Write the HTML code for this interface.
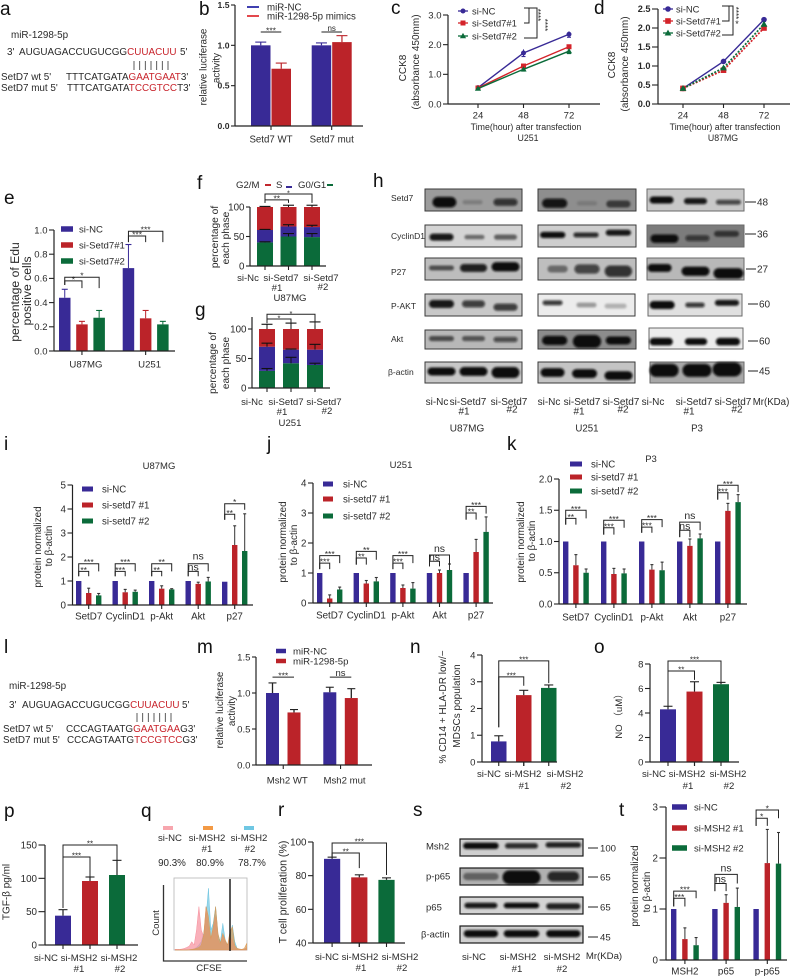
<!DOCTYPE html>
<html lang="en">
<head>
<meta charset="utf-8">
<title>Multi-panel figure</title>
<style>
html,body{margin:0;padding:0;background:#fff;width:792px;height:976px;overflow:hidden}
svg{display:block;filter:blur(.3px)}
text{font-family:"Liberation Sans","Noto Sans CJK SC",sans-serif;fill:#2a2a2a;font-size:9.6px}
.m{text-anchor:middle}
.letter{font-size:19px;fill:#111}
.seq{font-size:9.9px}
.red{fill:#c8242c}
</style>
</head>
<body>
<svg id="figure" xmlns="http://www.w3.org/2000/svg" width="792" height="976" viewBox="0 0 792 976">
<defs><filter id="bandBlur" x="-30%" y="-80%" width="160%" height="260%"><feGaussianBlur stdDeviation="1.1"/></filter></defs>
<rect width="792" height="976" fill="#fff"/>

<g>
<text class="letter" x="0" y="15">a</text>
<text class="letter" x="199" y="15">b</text>
<text class="letter" x="391" y="14">c</text>
<text class="letter" x="594" y="14">d</text>
<text class="letter" x="4" y="204">e</text>
<text class="letter" x="197" y="189">f</text>
<text class="letter" x="195" y="316">g</text>
<text class="letter" x="373" y="187">h</text>
<text class="letter" x="4" y="450">i</text>
<text class="letter" x="267" y="450">j</text>
<text class="letter" x="507" y="450">k</text>
<text class="letter" x="4" y="653">l</text>
<text class="letter" x="197" y="653">m</text>
<text class="letter" x="410" y="653">n</text>
<text class="letter" x="594" y="653">o</text>
<text class="letter" x="4" y="817">p</text>
<text class="letter" x="141" y="817">q</text>
<text class="letter" x="278" y="816">r</text>
<text class="letter" x="413" y="816">s</text>
<text class="letter" x="619" y="816">t</text>
</g>

<g>
<text class="seq" x="11" y="38">miR-1298-5p</text>
<text class="seq" x="7" y="55">3'</text>
<text class="seq" x="19" y="55">AUGUAGACCUGUCGG<tspan class="red">CUUACUU</tspan></text>
<text class="seq" x="180" y="55">5'</text>
<path d="M134 61V70M139.7 61V70M145.3 61V70M151 61V70M156.7 61V70M162.3 61V70M168 61V70" stroke="#333" stroke-width=".8" fill="none"/>
<text class="seq" x="1" y="80">SetD7 wt 5'</text>
<text class="seq" x="66" y="80">TTTCATGATA<tspan class="red">GAATGAAT</tspan>3'</text>
<text class="seq" x="1" y="91">SetD7 mut 5'</text>
<text class="seq" x="67" y="91">TTTCATGATA<tspan class="red">TCCGTCC</tspan>T3'</text>
</g>

<g>
<text class="seq" x="9" y="689">miR-1298-5p</text>
<text class="seq" x="9" y="708">3'</text>
<text class="seq" x="22" y="708">AUGUAGACCUGUCGG<tspan class="red">CUUACUU</tspan></text>
<text class="seq" x="182" y="708">5'</text>
<path d="M137 713V722M142.7 713V722M148.3 713V722M154 713V722M159.7 713V722M165.3 713V722M171 713V722" stroke="#333" stroke-width=".8" fill="none"/>
<text class="seq" x="3" y="732">SetD7 wt 5'</text>
<text class="seq" x="66" y="732">CCCAGTAATG<tspan class="red">GAATGAA</tspan>G3'</text>
<text class="seq" x="3" y="743">SetD7 mut 5'</text>
<text class="seq" x="67" y="743">CCCAGTAATG<tspan class="red">TCCGTCC</tspan>G3'</text>
</g>

<g>
<text class="m" transform="translate(206.5,67) rotate(-90)" style="font-size:9.9px">relative luciferase</text>
<text class="m" transform="translate(219.5,68) rotate(-90)" style="font-size:9.9px">activity</text>
<text class="m" transform="translate(406,68) rotate(-90)" style="font-size:10px">CCK8</text>
<text class="m" transform="translate(419,62) rotate(-90)" style="font-size:10px">(absorbance 450mm)</text>
<text class="m" x="526" y="130" style="font-size:8.8px">Time(hour) after transfection</text>
<text class="m" x="528" y="141" style="font-size:8.8px">U251</text>
<text class="m" transform="translate(615,65) rotate(-90)" style="font-size:10px">CCK8</text>
<text class="m" transform="translate(628,64) rotate(-90)" style="font-size:10px">(absorbance 450mm)</text>
<text class="m" x="725" y="130" style="font-size:8.8px">Time(hour) after transfection</text>
<text class="m" x="723" y="141" style="font-size:8.8px">U87MG</text>
<text class="m" transform="translate(19,292) rotate(-90)" style="font-size:12.2px">percentage of Edu</text>
<text class="m" transform="translate(31,291) rotate(-90)" style="font-size:12.2px">positive cells</text>
<text class="m" transform="translate(218,237) rotate(-90)" style="font-size:10.2px">percentage of</text>
<text class="m" transform="translate(229,238) rotate(-90)" style="font-size:10.2px">each phase</text>
<text x="236" y="188">G2/M</text>
<text x="276" y="188">S</text>
<text x="298" y="188">G0/G1</text>
<rect x="265" y="184" width="6" height="2" fill="#c1272d"/>
<rect x="286" y="186" width="6" height="2" fill="#382a96"/>
<rect x="327" y="184" width="6" height="2" fill="#0b6b3a"/>
<text class="m" x="248" y="281">si-Nc</text>
<text class="m" x="281" y="281">si-Setd7</text>
<text class="m" x="277" y="291">#1</text>
<text class="m" x="321" y="281">si-Setd7</text>
<text class="m" x="323" y="290">#2</text>
<text class="m" x="290" y="301">U87MG</text>
<text class="m" transform="translate(216,363) rotate(-90)" style="font-size:10.1px">percentage of</text>
<text class="m" transform="translate(229,363) rotate(-90)" style="font-size:10.1px">each phase</text>
<text class="m" x="252" y="405">si-Nc</text>
<text class="m" x="286" y="405">si-Setd7</text>
<text class="m" x="282" y="415">#1</text>
<text class="m" x="324" y="405">si-Setd7</text>
<text class="m" x="327" y="414">#2</text>
<text class="m" x="290" y="426">U251</text>

<text class="m" x="159" y="469" style="font-size:9.5px">U87MG</text>
<text class="m" transform="translate(41,547) rotate(-90)" style="font-size:9.9px">protein normalized</text>
<text class="m" transform="translate(52,546) rotate(-90)" style="font-size:9.9px">to β-actin</text>
<text class="m" x="401" y="468" style="font-size:9.5px">U251</text>
<text class="m" transform="translate(286,542) rotate(-90)" style="font-size:9.9px">protein normalized</text>
<text class="m" transform="translate(297,545) rotate(-90)" style="font-size:9.9px">to β-actin</text>
<text class="m" x="651" y="462" style="font-size:9.5px">P3</text>
<text class="m" transform="translate(524,542) rotate(-90)" style="font-size:9.9px">protein normalized</text>
<text class="m" transform="translate(535,541) rotate(-90)" style="font-size:9.9px">to β-actin</text>
<text class="m" transform="translate(223,710) rotate(-90)" style="font-size:9.9px">relative luciferase</text>
<text class="m" transform="translate(235,711) rotate(-90)" style="font-size:9.9px">activity</text>
<text class="m" transform="translate(446,707) rotate(-90)" style="font-size:10.1px">% CD14 + HLA-DR low/−</text>
<text class="m" transform="translate(460,706) rotate(-90)" style="font-size:10px">MDSCs population</text>
<text class="m" x="489" y="777">si-NC</text>
<text class="m" x="523" y="777">si-MSH2</text>
<text class="m" x="524" y="789">#1</text>
<text class="m" x="565" y="777">si-MSH2</text>
<text class="m" x="566" y="789">#2</text>
<text class="m" transform="translate(622,714) rotate(-90)">NO （uM）</text>
<text class="m" x="654" y="777">si-NC</text>
<text class="m" x="687" y="777">si-MSH2</text>
<text class="m" x="688" y="789">#1</text>
<text class="m" x="728" y="777">si-MSH2</text>
<text class="m" x="729" y="789">#2</text>
<text class="m" transform="translate(9.5,892) rotate(-90)" style="font-size:10px">TGF-β pg/ml</text>
<text class="m" x="46" y="961">si-NC</text>
<text class="m" x="79" y="961">si-MSH2</text>
<text class="m" x="79" y="972">#1</text>
<text class="m" x="119" y="961">si-MSH2</text>
<text class="m" x="120" y="972">#2</text>
<rect x="163" y="826" width="10" height="4" fill="#f7a6ae"/>
<rect x="203" y="826" width="10" height="4" fill="#f39a45"/>
<rect x="244" y="826" width="10" height="4" fill="#6fc7e3"/>
<text class="m" x="170" y="841">si-NC</text>
<text class="m" x="207" y="841">si-MSH2</text>
<text class="m" x="207" y="852">#1</text>
<text class="m" x="249" y="841">si-MSH2</text>
<text class="m" x="250" y="852">#2</text>
<text class="m" x="172" y="866" style="font-size:9.8px">90.3%</text>
<text class="m" x="210" y="866" style="font-size:9.8px">80.9%</text>
<text class="m" x="252" y="866" style="font-size:9.8px">78.7%</text>
<text class="m" transform="translate(159,923) rotate(-90)">Count</text>
<text class="m" x="209" y="971">CFSE</text>
<text class="m" transform="translate(286.5,892) rotate(-90)" style="font-size:10.6px">T cell proliferation (%)</text>
<text class="m" x="327" y="960">si-NC</text>
<text class="m" x="360" y="960">si-MSH2</text>
<text class="m" x="361" y="971">#1</text>
<text class="m" x="400" y="960">si-MSH2</text>
<text class="m" x="402" y="971">#2</text>
<text class="m" transform="translate(638,886) rotate(-90)" style="font-size:9.9px">protein normalized</text>
<text class="m" transform="translate(650,892) rotate(-90)" style="font-size:9.9px">to β-actin</text>
</g>

<g>
<path d="M524 8H529V23H524" fill="none" stroke="#222" stroke-width="1"/>
<path d="M529 8H537V38H524" fill="none" stroke="#222" stroke-width="1"/>
<text class="m" transform="translate(535,15) rotate(90)" style="font-size:8px">****</text>
<text class="m" transform="translate(542,25) rotate(90)" style="font-size:8px">****</text>
<path d="M722 6H729V21H722" fill="none" stroke="#222" stroke-width="1"/>
<path d="M729 6H733V35H722" fill="none" stroke="#222" stroke-width="1"/>
<text class="m" transform="translate(733,13) rotate(90)" style="font-size:8px">****</text>
<text class="m" x="737" y="27" style="font-size:9px">*</text>
</g>

<g>
<text x="391" y="201" style="font-size:8.5px">Setd7</text>
<text x="391" y="239" style="font-size:8.5px">CyclinD1</text>
<text x="391" y="275" style="font-size:8.5px">P27</text>
<text x="391" y="309" style="font-size:8.5px">P-AKT</text>
<text x="391" y="342" style="font-size:8.5px">Akt</text>
<text x="388" y="375" style="font-size:8.5px">β-actin</text>
<path d="M745 202H756M745 234H756M746 269H756M748 304H758M748 341H758M748 371H758" stroke="#222" stroke-width="1" fill="none"/>
<text x="757" y="205.5" style="font-size:10px">48</text>
<text x="757" y="237.5" style="font-size:10px">36</text>
<text x="757" y="272.5" style="font-size:10px">27</text>
<text x="759" y="307.5" style="font-size:10px">60</text>
<text x="759" y="344.5" style="font-size:10px">60</text>
<text x="759" y="374.5" style="font-size:10px">45</text>
<text class="m" x="437" y="405" style="font-size:10px">si-Nc</text>
<text class="m" x="468" y="405" style="font-size:10px">si-Setd7</text>
<text class="m" x="464" y="414.5" style="font-size:10px">#1</text>
<text class="m" x="509" y="405" style="font-size:10px">si-Setd7</text>
<text class="m" x="512" y="412.5" style="font-size:10px">#2</text>
<text class="m" x="549" y="405" style="font-size:10px">si-Nc</text>
<text class="m" x="582" y="405" style="font-size:10px">si-Setd7</text>
<text class="m" x="579" y="414.5" style="font-size:10px">#1</text>
<text class="m" x="621" y="405" style="font-size:10px">si-Setd7</text>
<text class="m" x="623" y="412.5" style="font-size:10px">#2</text>
<text class="m" x="653" y="405" style="font-size:10px">si-Nc</text>
<text class="m" x="694" y="405" style="font-size:10px">si-Setd7</text>
<text class="m" x="689" y="414.5" style="font-size:10px">#1</text>
<text class="m" x="733" y="405" style="font-size:10px">si-Setd7</text>
<text class="m" x="737" y="412.5" style="font-size:10px">#2</text>
<text class="m" x="771" y="405" style="font-size:9.7px">Mr(KDa)</text>
<text class="m" x="467" y="431.5" style="font-size:10px">U87MG</text>
<text class="m" x="587" y="431.5" style="font-size:9.7px">U251</text>
<text class="m" x="697" y="431.5" style="font-size:9.7px">P3</text>
</g>

<g>
<text x="426" y="849.5" style="font-size:9.5px">Msh2</text>
<text x="426" y="879.5" style="font-size:9.5px">p-p65</text>
<text x="426" y="910.5" style="font-size:9.5px">p65</text>
<text x="421" y="937.5" style="font-size:9.5px">β-actin</text>
<path d="M588 848H598M588 877H598M588 907H598M588 937H598" stroke="#222" stroke-width="1" fill="none"/>
<text x="600" y="851.5">100</text>
<text x="600" y="880.5">65</text>
<text x="600" y="910.5">65</text>
<text x="600" y="940.5">45</text>
<text class="m" x="474" y="960" style="font-size:9.6px">si-NC</text>
<text class="m" x="518" y="960" style="font-size:9.6px">si-MSH2</text>
<text class="m" x="517" y="972" style="font-size:9.6px">#1</text>
<text class="m" x="562" y="960" style="font-size:9.6px">si-MSH2</text>
<text class="m" x="562" y="972" style="font-size:9.6px">#2</text>
<text class="m" x="604" y="959" style="font-size:9.6px">Mr(KDa)</text>
</g>
</svg>

<script>
/* ---------- panel b ---------- */
const bCategories=['Setd7 WT','Setd7 mut'];
const bSeriesNames=['miR-NC','miR-1298-5p mimics'];
const bTicks=[0,0.5,1,1.5];
const bNC=[1.0,1.0];
const bMimics=[0.71,1.04];
const bNCErr=[0.04,0.03];
const bMimicsErr=[0.07,0.08];
/* ---------- panel c ---------- */
const cHours=['24','48','72'];
const cSeriesNames=['si-NC','si-Setd7#1','si-Setd7#2'];
const cTicks=[0,1,2,3];
const cNC=[0.55,1.72,2.35];
const cSi1=[0.54,1.28,1.93];
const cSi2=[0.52,1.17,1.78];
const cNCErr=[0.03,0.12,0.1];
const cSi1Err=[0.02,0.05,0.06];
const cSi2Err=[0.02,0.06,0.08];
/* ---------- panel d ---------- */
const dHours=['24','48','72'];
const dSeriesNames=['si-NC','si-Setd7#1','si-Setd7#2'];
const dTicks=[0,0.5,1,1.5,2,2.5];
const dNC=[0.41,1.12,2.22];
const dSi1=[0.41,0.89,2.0];
const dSi2=[0.41,0.95,2.1];
/* ---------- panel e ---------- */
const eCategories=['U87MG','U251'];
const eSeriesNames=['si-NC','si-Setd7#1','si-Setd7#2'];
const eTicks=[0,0.2,0.4,0.6,0.8,1];
const eNC=[0.44,0.685];
const eSi1=[0.22,0.27];
const eSi2=[0.275,0.22];
const eNCErr=[0.07,0.195];
const eSi1Err=[0.025,0.065];
const eSi2Err=[0.06,0.025];
/* ---------- panels f, g ---------- */
const fgTicks=[0,50,100];
const fG0=[40,50,49];
const fS=[21,17,17];
const fG2=[39,33,34];
const fG0Err=[1,5,6];
const fSErr=[1,3,3];
const fG2Err=[1,3,3];
const gG0=[29,42,39];
const gS=[41,23,26];
const gG2=[30,35,35];
const gG0Err=[4,10,3];
const gSErr=[6,1,9];
const gG2Err=[8,10,12];
/* ---------- panel i ---------- */
const proteinCategories=['SetD7','CyclinD1','p-Akt','Akt','p27'];
const setd7SeriesNames=['si-NC','si-setd7 #1','si-setd7 #2'];
const iTicks=[0,1,2,3,4,5];
const iNC=[1,1,1,1,0.97];
const iSi1=[0.5,0.53,0.68,0.88,2.5];
const iSi2=[0.4,0.55,0.65,0.98,2.25];
const iSi1Err=[0.2,0.12,0.12,0.07,0.8];
const iSi2Err=[0.08,0.07,0.03,0.17,1.55];
/* ---------- panel j ---------- */
const jTicks=[0,1,2,3,4];
const jNC=[1,1,1,1,1];
const jSi1=[0.15,0.65,0.5,1.0,1.7];
const jSi2=[0.45,0.72,0.48,1.1,2.37];
const jSi1Err=[0.12,0.1,0.1,0.1,0.42];
const jSi2Err=[0.08,0.13,0.2,0.2,0.5];
/* ---------- panel k ---------- */
const kTicks=[0,0.5,1,1.5,2];
const kNC=[1,1,1,1,1];
const kSi1=[0.62,0.48,0.55,0.93,1.49];
const kSi2=[0.5,0.49,0.54,1.05,1.63];
const kSi1Err=[0.17,0.09,0.08,0.11,0.12];
const kSi2Err=[0.06,0.07,0.13,0.07,0.12];
/* ---------- panel m ---------- */
const mCategories=['Msh2 WT','Msh2 mut'];
const mSeriesNames=['miR-NC','miR-1298-5p'];
const mTicks=[0,0.5,1,1.5];
const mNC=[1.0,1.01];
const mMimic=[0.73,0.93];
const mNCErr=[0.14,0.07];
const mMimicErr=[0.04,0.13];
/* ---------- panels n, o, p, r (si-NC, si-MSH2 #1, si-MSH2 #2) ---------- */
const nTicks=[0,1,2,3,4];
const nValues=[0.77,2.5,2.77];
const nErr=[0.21,0.18,0.11];
const oTicks=[0,2,4,6,8];
const oValues=[4.3,5.75,6.35];
const oErr=[0.25,0.8,0.15];
const pTicks=[0,50,100,150];
const pValues=[44,96,105];
const pErr=[9,6,22];
const rTicks=[40,60,80,100];
const rValues=[90,79,77.5];
const rErr=[1,1.5,1.2];
/* ---------- panel q (flow histogram bins) ---------- */
const qSiNC=[2,2,2,3,5,8,12,25,15,60,130,60,40,130,70,30,60,100,30,15,45,25,10,40,30,8,3,2,2,2,8];
const qMsh21=[0,0,0,0,0,0,1,2,3,5,8,15,45,130,100,35,70,130,50,20,50,30,15,55,70,15,5,3,2,5,20];
const qMsh22=[0,0,0,0,0,0,1,2,3,8,15,25,50,100,185,60,80,130,45,25,80,30,15,40,75,25,5,2,1,2,8];
/* ---------- panel t ---------- */
const tCategories=['MSH2','p65','p-p65'];
const tSeriesNames=['si-NC','si-MSH2 #1','si-MSH2 #2'];
const tTicks=[0,1,2,3];
const tNC=[1,1,1];
const tSi1=[0.41,1.12,1.9];
const tSi2=[0.29,1.04,1.89];
const tSi1Err=[0.22,0.16,0.66];
const tSi2Err=[0.15,0.37,0.61];

const BLUE='#382a96',RED='#bb2329',GREEN='#0b6b3a';
const TRIO=[BLUE,RED,GREEN];
const NS='http://www.w3.org/2000/svg';
const root=document.getElementById('figure');

function make(tag,attrs,parent){
  const el=document.createElementNS(NS,tag);
  for(const k in attrs)el.setAttribute(k,attrs[k]);
  parent.appendChild(el);
  return el;
}
function addText(parent,name,str,x,cy,size,anchor,weight){
  const el=make('text',{x:x,y:cy+size*0.35,'text-anchor':anchor,'font-weight':weight||'normal',style:'font-size:'+size+'px'},parent);
  el.textContent=str;
  
  
  return el;
}
function newPanel(id){
  const g=make('g',{},root);
  
  
  return g;
}
function yOf(c,v){return c.yBot-(v-c.vMin)/(c.vMax-c.vMin)*(c.yBot-c.yTop);}
function barCx(c,g,s){return c.barLeft+g*c.groupStep+s*c.barStep+c.barW/2;}

function drawAxes(c,parent,ticks){
  const top=c.axisTop===undefined?c.yTop:c.axisTop;
  const ya=make('line',{x1:c.axX,x2:c.axX,y1:top,y2:c.yBot+.5,stroke:'#222','stroke-width':1.2},parent);
  
  
  const xa=make('line',{x1:c.axX,x2:c.axRight,y1:c.yBot,y2:c.yBot,stroke:'#222','stroke-width':1.2},parent);
  
  
  const len=c.tickLen||5;
  ticks.forEach(function(t){
    const y=yOf(c,t);
    const tk=make('line',{x1:c.axX-len,x2:c.axX,y1:y,y2:y,stroke:'#222','stroke-width':1.1},parent);
    
    
    addText(parent,'y-tick-label',t.toFixed(c.digits||0),c.axX-len-1.5,y,c.tickSize||9.8,'end',c.tickBold?'bold':'normal');
  });
}
function drawXTick(c,parent,x){
  const tk=make('line',{x1:x,x2:x,y1:c.yBot,y2:c.yBot+4,stroke:'#222','stroke-width':1.1},parent);
  
  
}
function drawErr(c,parent,x,v,d,color){
  if(!d)return;
  const top=yOf(c,v+d);
  const stem=make('line',{x1:x,x2:x,y1:yOf(c,v),y2:top,stroke:color,'stroke-width':c.errW||1},parent);
  
  
  const cw=c.capW||6;
  const cap=make('line',{x1:x-cw/2,x2:x+cw/2,y1:top,y2:top,stroke:color,'stroke-width':1.1},parent);
  
  
}
function drawGrouped(id,c,ticks,categories,series,errs,colors){
  const g=newPanel(id);
  series.forEach(function(values,s){
    values.forEach(function(v,i){
      const x=c.barLeft+i*c.groupStep+s*c.barStep;
      const bar=make('rect',{x:x,y:yOf(c,v),width:c.barW,height:c.yBot-yOf(c,v),fill:colors[s]},g);
      
      
      if(errs[s])drawErr(c,g,barCx(c,i,s),v,errs[s][i],c.errColor||colors[s]);
    });
  });
  drawAxes(c,g,ticks);
  const n=series[0].length, mid=(series.length-1)/2;
  for(let i=0;i<n;i++){
    const x=barCx(c,i,mid);
    drawXTick(c,g,x);
    if(categories)addText(g,'category-label',categories[i],x+(c.catDx||0),c.catY,c.catSize||9.8,'middle');
  }
  return g;
}
function drawSig(c,parent,list){
  list.forEach(function(e){
    const xA=barCx(c,e[0],e[1]), xB=barCx(c,e[2],e[3]);
    const path=make('path',{d:'M'+xA+' '+yOf(c,e[5])+'V'+yOf(c,e[4])+'H'+xB+'V'+yOf(c,e[6]),fill:'none',stroke:'#222','stroke-width':1},parent);
    
    
    const star=e[7].charAt(0)==='*';
    const size=e[8]||(star?8.5:9.5);
    const dy=e[9]===undefined?(star?1.5:-1):e[9];
    const lbl=make('text',{x:(xA+xB)/2,y:yOf(c,e[4])+dy,'text-anchor':'middle',style:'font-size:'+size+'px'},parent);
    lbl.textContent=e[7];
    
    
  });
}
function drawLegend(parent,names,colors,sx,sw,sh,ys,tx,size){
  names.forEach(function(n,i){
    const sq=make('rect',{x:sx,y:ys[i]-sh/2,width:sw,height:sh,fill:colors[i]},parent);
    
    
    addText(parent,'legend-entry',n,tx,ys[i],size,'start');
  });
}
function drawMarker(parent,kind,x,y,r,color){
  let m;
  if(kind==='circle')m=make('circle',{cx:x,cy:y,r:r,fill:color},parent);
  else if(kind==='square')m=make('rect',{x:x-r,y:y-r,width:2*r,height:2*r,fill:color},parent);
  else m=make('polygon',{points:(x)+','+(y-r-.6)+' '+(x+r+.6)+','+(y+r-.3)+' '+(x-r-.6)+','+(y+r-.3),fill:color},parent);
  
  
}
const KINDS=['circle','square','triangle'];
function drawLines(id,c,ticks,cats,series,errs,colors,dashes){
  const g=newPanel(id);
  drawAxes(c,g,ticks);
  const px=function(i){return c.firstX+i*c.stepX;};
  cats.forEach(function(t,i){
    drawXTick(c,g,px(i));
    addText(g,'x-tick-label',t,px(i),c.catY,c.catSize||9.5,'middle');
  });
  series.forEach(function(vals,s){
    const pts=vals.map(function(v,i){return px(i)+','+yOf(c,v);}).join(' ');
    const ln=make('polyline',{points:pts,fill:'none',stroke:colors[s],'stroke-width':dashes[s]?1.7:1.4,'stroke-dasharray':dashes[s]},g);
    
    
    vals.forEach(function(v,i){
      if(errs&&errs[s]){
        drawErr(c,g,px(i),v+errs[s][i],-2*errs[s][i],colors[s]);
      }
      drawMarker(g,KINDS[s],px(i),yOf(c,v),c.markerR||2.5,colors[s]);
    });
  });
  return g;
}
function drawLineLegend(parent,names,colors,x0,x1,ys,tx,size,r){
  names.forEach(function(n,i){
    const ln=make('line',{x1:x0,x2:x1,y1:ys[i],y2:ys[i],stroke:colors[i],'stroke-width':1.3},parent);
    
    
    drawMarker(parent,KINDS[i],(x0+x1)/2,ys[i],r,colors[i]);
    addText(parent,'legend-entry',n,tx,ys[i],size,'start');
  });
}
function drawStack(id,c,ticks,layers,errs,colors){
  const g=newPanel(id);
  layers[0].forEach(function(_,i){
    let base=0;
    layers.forEach(function(vals,l){
      const v=vals[i], x=c.barLeft+i*c.groupStep;
      const rc=make('rect',{x:x,y:yOf(c,base+v),width:c.barW,height:yOf(c,base)-yOf(c,base+v),fill:colors[l]},g);
      
      
      base+=v;
    });
    base=0;
    layers.forEach(function(vals,l){
      base+=vals[i];
      drawErr(c,g,x0Center(c,i),base,errs[l][i],'#111');
    });
    drawXTick(c,g,x0Center(c,i));
  });
  drawAxes(c,g,ticks);
  return g;
}
function x0Center(c,i){return c.barLeft+i*c.groupStep+c.barW/2;}
function drawHistogram(id,parent,c,series,colors){
  series.forEach(function(vals,s){
    let d='M'+c.x0+' '+c.base;
    vals.forEach(function(v,i){d+='L'+(c.x0+i*c.step)+' '+(c.base-v*c.scale);});
    d+='L'+(c.x0+(vals.length-1)*c.step)+' '+c.base+'Z';
    const a=make('path',{d:d,fill:colors[s],'fill-opacity':0.7,stroke:colors[s],'stroke-width':.5},parent);
    
    
  });
}
function drawBlot(parent,b,label,frameColor,frameW){
  const g=make('g',{},parent);
  
  
  const frame=make('rect',{x:b[0],y:b[1],width:b[2],height:b[3],fill:b[4],stroke:frameColor,'stroke-width':frameW},g);
  
  
  b[5].forEach(function(k){
    const w=k[2]*b[2]*1.03,h=k[3]*b[3];
    const band=make('rect',{x:b[0]+k[0]*b[2]-w/2,y:b[1]+k[1]*b[3]-h/2,width:w,height:h,rx:h/2,fill:'#0a0a0a','fill-opacity':k[4],filter:'url(#bandBlur)'},g);
    
    
  });
}

/* images of gels: [x,y,w,h,background,[[laneX,laneY,bandW,bandH,darkness]...]] */
const hBlots=[
 [425,189,97,22,'#9c9c9c',[[.2,.6,.24,.48,1],[.49,.6,.2,.2,.2],[.83,.6,.24,.32,.75]]],
 [425,225,97,22,'#d4d4d4',[[.17,.55,.24,.32,.95],[.51,.55,.2,.2,.5],[.83,.55,.23,.24,.55]]],
 [425,258,97,22,'#bdbdbd',[[.17,.45,.25,.22,.6],[.5,.45,.27,.36,.9],[.83,.4,.28,.42,1]]],
 [425,294,97,22,'#c8c8c8',[[.17,.45,.25,.36,.95],[.5,.45,.23,.32,.75],[.83,.6,.24,.32,.75]]],
 [425,330,97,19,'#b8b8b8',[[.17,.45,.25,.27,.6],[.5,.45,.23,.27,.55],[.83,.5,.24,.27,.65]]],
 [425,362,97,21,'#c8c8c8',[[.17,.45,.28,.38,1],[.5,.45,.28,.42,1],[.83,.5,.28,.52,1]]],
 [538,189,98,22,'#8e8e8e',[[.17,.65,.25,.42,.95],[.5,.65,.2,.2,.15],[.82,.68,.24,.32,.6]]],
 [538,225,98,22,'#cecece',[[.15,.45,.25,.28,1],[.49,.45,.25,.22,.85],[.82,.35,.25,.27,.95]]],
 [538,258,98,22,'#bebebe',[[.2,.5,.2,.32,.45],[.5,.5,.25,.42,.7],[.82,.6,.27,.52,.8]]],
 [538,294,97,22,'#ececec',[[.15,.4,.2,.22,.8],[.5,.5,.2,.22,.35],[.8,.55,.22,.22,.25]]],
 [538,330,98,19,'#8c8c8c',[[.17,.55,.25,.48,1],[.5,.6,.28,.68,1],[.82,.55,.25,.42,1]]],
 [538,362,97,21,'#c4c4c4',[[.15,.5,.24,.42,1],[.48,.55,.25,.42,1],[.83,.65,.28,.42,1]]],
 [647,189,97,22,'#c8c8c8',[[.15,.5,.24,.32,1],[.5,.55,.23,.27,.95],[.84,.6,.25,.22,.7]]],
 [647,225,97,22,'#7c7c7c',[[.18,.62,.28,.38,1],[.52,.6,.24,.27,.65],[.82,.4,.25,.27,.6]]],
 [647,258,97,22,'#b8b8b8',[[.13,.45,.24,.36,1],[.5,.6,.28,.42,1],[.84,.7,.3,.48,1]]],
 [648,294,94,22,'#e0e0e0',[[.15,.5,.26,.36,1],[.5,.5,.2,.22,.8],[.84,.4,.25,.27,.95]]],
 [649,328,94,21,'#ececec',[[.13,.65,.24,.36,1],[.5,.65,.23,.32,1],[.84,.65,.25,.36,1]]],
 [650,362,94,21,'#a8a8a8',[[.15,.4,.3,.62,1],[.5,.4,.3,.62,1],[.82,.35,.3,.68,1]]]
];
const sBlots=[
 [460,839,123,17,'#cfcfcf',[[.17,.4,.28,.38,1],[.5,.4,.26,.32,.85],[.84,.35,.28,.32,.9]]],
 [460,868,123,17,'#b0b0b0',[[.17,.5,.28,.42,.45],[.5,.55,.3,.82,1],[.84,.5,.25,.58,.85]]],
 [460,897,123,17,'#d4d4d4',[[.17,.5,.26,.32,.95],[.5,.5,.28,.32,1],[.84,.55,.27,.36,.9]]],
 [460,926,123,17,'#d0d0d0',[[.17,.45,.27,.42,1],[.5,.45,.28,.42,1],[.84,.45,.27,.42,1]]]
];

/* ---- draw ---- */
const gb=drawGrouped('b',{axX:235,axRight:363,yTop:5,yBot:126,vMin:0,vMax:1.5,digits:1,tickBold:true,tickLen:4,tickSize:8.6,barLeft:251,groupStep:60.7,barStep:20.5,barW:19.5,capW:11,catY:139,catSize:9.7,errW:1.2},bTicks,bCategories,[bNC,bMimics],[bNCErr,bMimicsErr],[BLUE,RED]);
drawLegend(gb,bSeriesNames,['#2c2ca8','#e0353a'],247,12,1.8,[7,16],267,9.7);
drawSig({barLeft:251,groupStep:60.7,barStep:20.5,barW:19.5,yBot:126,yTop:5,vMin:0,vMax:1.5},gb,[[0,0,0,1,1.165,1.165,1.165,'***'],[1,0,1,1,1.165,1.165,1.165,'ns',8]]);

const gc=drawLines('c',{axX:448,axRight:600,yTop:15,yBot:104,vMin:0,vMax:3,digits:1,tickSize:9.5,capW:4,firstX:478,stepX:45.5,catY:115,catSize:9.6,markerR:2.5},cTicks,cHours,[cNC,cSi1,cSi2],[cNCErr,cSi1Err,cSi2Err],[BLUE,'#d4232a',GREEN],['','','']);
drawLineLegend(gc,cSeriesNames,[BLUE,'#d4232a',GREEN],458,468,[11,23,36],472,9.4,2.5);

const gd=drawLines('d',{axX:658,axRight:790,yTop:9,yBot:104,vMin:0,vMax:2.5,digits:1,tickBold:true,tickLen:6,tickSize:9.2,firstX:683,stepX:40.5,catY:115,catSize:9.6,markerR:2.8},dTicks,dHours,[dNC,dSi1,dSi2],null,[BLUE,'#d4232a',GREEN],['','2 1.5','2 1.5']);
drawLineLegend(gd,dSeriesNames,[BLUE,'#d4232a',GREEN],663,673,[9,21,33],676,9.4,2.8);

const cE={axX:54,axRight:175,yTop:230,yBot:351,vMin:0,vMax:1,digits:1,tickSize:9.5,barLeft:59,groupStep:63.7,barStep:17.2,barW:11.5,capW:6,catY:364,catSize:9.6,catDx:4};
const ge=drawGrouped('e',cE,eTicks,eCategories,[eNC,eSi1,eSi2],[eNCErr,eSi1Err,eSi2Err],TRIO);
drawLegend(ge,eSeriesNames,TRIO,61,12,5.5,[229,245,261],79,9.6);
drawSig(cE,ge,[[0,0,0,2,0.61,0.545,0.52,'*'],[0,0,0,1,0.58,0.545,0.52,'*'],[1,0,1,2,0.99,0.9,0.9,'***'],[1,0,1,1,0.95,0.9,0.9,'***']]);

const cF={axX:250,axRight:326,yTop:207,yBot:266,vMin:0,vMax:100,tickLen:4,barLeft:257,groupStep:23.5,barStep:0,barW:16,capW:11};
const gf=drawStack('f',cF,fgTicks,[fG0,fS,fG2],[fG0Err,fSErr,fG2Err],[GREEN,BLUE,RED]);
const cFs={barLeft:257,groupStep:23.5,barStep:0,barW:16,yBot:266,yTop:207,vMin:0,vMax:100};
drawSig(cFs,gf,[[0,0,2,0,122,107,107,'*',7.5],[0,0,1,0,112,107,107,'**']]);

const cG={axX:252,axRight:330,yTop:329,yBot:388,axisTop:317,vMin:0,vMax:100,tickLen:4,barLeft:259,groupStep:24,barStep:0,barW:16,capW:11};
const gg=drawStack('g',cG,fgTicks,[gG0,gS,gG2],[gG0Err,gSErr,gG2Err],[GREEN,BLUE,RED]);
drawSig(cG,gg,[[0,0,2,0,125,110,107,'*',7.5],[0,0,1,0,117,110,110,'*',7.5]]);

const gh=newPanel('h');
hBlots.forEach(function(b,i){drawBlot(gh,b,'h-'+i,i<12?'#3a3a3a':'#6a6a6a',1);});

const cI={axX:72.5,axRight:253,yTop:485,yBot:605,vMin:0,vMax:5,tickSize:9.8,barLeft:76,groupStep:36.5,barStep:10,barW:5.4,capW:3,errColor:'#333',catY:616,catSize:9.8};
const gi=drawGrouped('i',cI,iTicks,proteinCategories,[iNC,iSi1,iSi2],[null,iSi1Err,iSi2Err],TRIO);
drawLegend(gi,setd7SeriesNames,TRIO,82,11,5,[489,505,521],102,9.7);
drawSig(cI,gi,[[0,0,0,2,1.72,1.2,1.4,'***'],[0,0,0,1,1.4,1.2,1.2,'**'],[1,0,1,2,1.72,1.2,1.4,'***'],[1,0,1,1,1.4,1.2,1.2,'***'],[2,0,2,2,1.72,1.2,1.4,'**'],[2,0,2,1,1.4,1.2,1.2,'**'],[3,0,3,2,1.72,1.2,1.4,'ns',10.5,-4],[3,0,3,1,1.4,1.2,1.2,'ns',10.5],[4,0,4,2,4.22,3.55,3.97,'*'],[4,0,4,1,3.78,3.55,3.55,'**']]);

const cJ={axX:313,axRight:493,yTop:483,yBot:603,vMin:0,vMax:4,tickSize:9.8,barLeft:317,groupStep:36.6,barStep:10,barW:5.4,capW:3,errColor:'#333',catY:615,catSize:9.8};
const gj=drawGrouped('j',cJ,jTicks,proteinCategories,[jNC,jSi1,jSi2],[null,jSi1Err,jSi2Err],TRIO);
drawLegend(gj,setd7SeriesNames,TRIO,323,10,5,[484,499,516],343,9.7);
drawSig(cJ,gj,[[0,0,0,2,1.58,1.13,1.33,'***'],[0,0,0,1,1.33,1.13,1.13,'***'],[1,0,1,2,1.72,1.28,1.44,'**'],[1,0,1,1,1.5,1.28,1.28,'**'],[2,0,2,2,1.58,1.13,1.33,'***'],[2,0,2,1,1.33,1.13,1.13,'***'],[3,0,3,2,1.6,1.22,1.28,'ns',10.5,-3],[3,0,3,1,1.39,1.22,1.22,'ns',10.5],[4,0,4,2,3.22,2.78,2.98,'***'],[4,0,4,1,3.0,2.78,2.78,'**']]);

const cK={axX:559,axRight:747,yTop:479,yBot:604,vMin:0,vMax:2,digits:1,tickSize:9.8,barLeft:563,groupStep:38,barStep:10.2,barW:5.4,capW:3,errColor:'#333',catY:617,catSize:9.8};
const gk=drawGrouped('k',cK,kTicks,proteinCategories,[kNC,kSi1,kSi2],[null,kSi1Err,kSi2Err],TRIO);
drawLegend(gk,setd7SeriesNames,TRIO,570,12,5,[464,477,491],591,9.7);
drawSig(cK,gk,[[0,0,0,2,1.5,1.27,1.37,'***'],[0,0,0,1,1.37,1.27,1.27,'**'],[1,0,1,2,1.34,1.11,1.22,'***'],[1,0,1,1,1.22,1.11,1.11,'***'],[2,0,2,2,1.35,1.14,1.23,'***'],[2,0,2,1,1.23,1.14,1.14,'***'],[3,0,3,2,1.31,1.07,1.18,'ns',10.5,-3],[3,0,3,1,1.18,1.07,1.07,'ns',10.5],[4,0,4,2,1.9,1.67,1.79,'***'],[4,0,4,1,1.78,1.67,1.67,'***']]);

const cM={axX:256,axRight:372,yTop:657,yBot:765,vMin:0,vMax:1.5,digits:1,tickLen:4,tickSize:9.6,barLeft:266,groupStep:57.3,barStep:21.5,barW:13,capW:8,errW:1.3,errColor:'#222',catY:780,catSize:9.6,catDx:4};
const gm=drawGrouped('m',cM,mTicks,mCategories,[mNC,mMimic],[mNCErr,mMimicErr],[BLUE,RED]);
drawLegend(gm,mSeriesNames,[BLUE,RED],276,10,4.5,[651,661],293,9.6);
drawSig(cM,gm,[[0,0,0,1,1.22,1.22,1.22,'***'],[1,0,1,1,1.22,1.22,1.22,'ns',9.5]]);

const cN={axX:482,axRight:557,yTop:655,yBot:762,vMin:0,vMax:4,tickSize:9.6,barLeft:491,groupStep:0,barStep:25,barW:15.5,capW:9,errW:1.2,errColor:'#222'};
const gn=drawGrouped('n',cN,nTicks,null,nValues.map(function(v){return [v];}),nErr.map(function(v){return [v];}),TRIO);
[0,1,2].forEach(function(s){drawXTick(cN,gn,barCx(cN,0,s));});
drawSig(cN,gn,[[0,0,0,2,3.78,1.3,2.95,'***',8],[0,0,0,1,3.18,1.3,2.85,'***',8]]);

const cO={axX:650,axRight:739,yTop:664,yBot:762,vMin:0,vMax:8,tickSize:9.6,barLeft:660,groupStep:0,barStep:26.5,barW:16,capW:9,errW:1.2,errColor:'#222'};
const go=drawGrouped('o',cO,oTicks,null,oValues.map(function(v){return [v];}),oErr.map(function(v){return [v];}),TRIO);
[0,1,2].forEach(function(s){drawXTick(cO,go,barCx(cO,0,s));});
drawSig(cO,go,[[0,0,0,2,8.25,4.57,6.45,'***',8],[0,0,0,1,7.43,4.57,6.7,'**',8]]);

const cP={axX:45,axRight:138,yTop:845,yBot:945,vMin:0,vMax:150,tickLen:6.5,tickSize:9.8,barLeft:55,groupStep:0,barStep:27,barW:16,capW:9,errW:1.2,errColor:'#222'};
const gp=drawGrouped('p',cP,pTicks,null,pValues.map(function(v){return [v];}),pErr.map(function(v){return [v];}),TRIO);
[0,1,2].forEach(function(s){drawXTick(cP,gp,barCx(cP,0,s));});
drawSig(cP,gp,[[0,0,0,2,150,55.5,127.5,'**',8],[0,0,0,1,132,55.5,102,'***',8]]);

const gq=newPanel('q');
const qFrame=make('rect',{x:174,y:878,width:73,height:72,fill:'#fff',stroke:'#bdbdbd','stroke-width':.9},gq);


drawHistogram('q',gq,{x0:175,step:2.39,base:950,scale:1/3},[qMsh22,qSiNC,qMsh21],['#6cc4e0','#f78f9c','#d99a55']);
const qAxes=make('path',{d:'M163.5 885V961H247',fill:'none',stroke:'#333','stroke-width':1.3},gq);


const qGate=make('line',{x1:230,x2:230,y1:879,y2:951,stroke:'#111','stroke-width':1.4},gq);



const cR={axX:313,axRight:405,yTop:842,yBot:943,vMin:40,vMax:100,tickSize:9.8,barLeft:324,groupStep:0,barStep:27.2,barW:16.2,capW:9,errW:1.2,errColor:'#222'};
const gr=drawGrouped('r',cR,rTicks,null,rValues.map(function(v){return [v];}),rErr.map(function(v){return [v];}),TRIO);
[0,1,2].forEach(function(s){drawXTick(cR,gr,barCx(cR,0,s));});
drawSig(cR,gr,[[0,0,0,2,99.4,91,80.4,'***',8],[0,0,0,1,93.5,91,84.5,'**',8]]);

const gs=newPanel('s');
sBlots.forEach(function(b,i){drawBlot(gs,b,'s-'+i,'#1a1a1a',1.2);});

const cT={axX:666,axRight:787,yTop:807,yBot:960,vMin:0,vMax:3,tickLen:6.5,tickSize:9.8,barLeft:671,groupStep:41.2,barStep:11.2,barW:5.4,capW:3,errColor:'#333',catY:971,catSize:9.8};
const gt=drawGrouped('t',cT,tTicks,tCategories,[tNC,tSi1,tSi2],[null,tSi1Err,tSi2Err],TRIO);
drawLegend(gt,tSeriesNames,TRIO,672,15,5.5,[807,828,848],694,9.5);
drawSig(cT,gt,[[0,0,0,2,1.35,1.05,1.21,'***'],[0,0,0,1,1.21,1.05,1.05,'***'],[1,0,1,2,1.68,1.35,1.5,'ns',10.5,-3],[1,0,1,1,1.5,1.35,1.35,'ns',10.5],[2,0,2,2,2.94,2.63,2.78,'*'],[2,0,2,1,2.78,2.63,2.63,'*']]);
</script>
</body>
</html>
